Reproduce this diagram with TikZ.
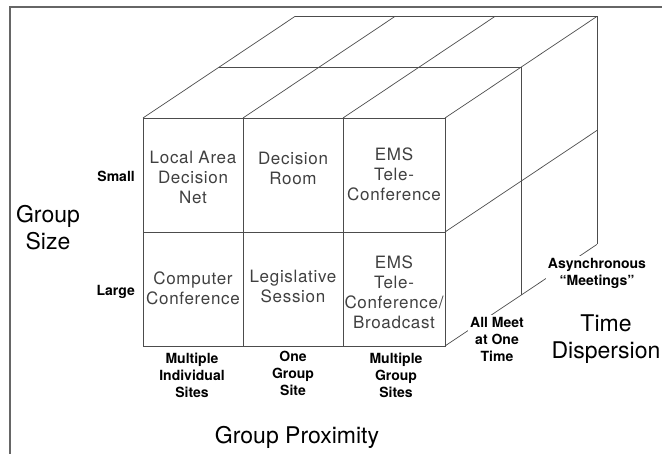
\documentclass[tikz,border=0pt]{standalone}
\usepackage{fontspec}
\setmainfont{TeX Gyre Heros}
\newfontfamily\cellfont[LetterSpace=4]{TeX Gyre Heros}
\begin{document}
\begin{tikzpicture}[x=1pt,y=-1pt,
  edge/.style={draw=black!70,line width=0.7pt},
  frameline/.style={draw=black!60,line width=1.3pt},
  celltext/.style={align=center,text=black!75,font=\cellfont\fontsize{17}{20}\selectfont,inner sep=0pt},
  lbl/.style={align=center,font=\bfseries\fontsize{14}{17}\selectfont,inner sep=2pt},
  biglbl/.style={align=center,font=\fontsize{23}{27}\selectfont,inner sep=0pt}]
\useasboundingbox (0,0) rectangle (662,454);
% frame
\draw[frameline] (10,454) -- (10,7) -- (662,7);
% corner coordinates
\coordinate (f0t) at (143,118); \coordinate (f1t) at (243,118);
\coordinate (f2t) at (343,118); \coordinate (f3t) at (445,118);
\coordinate (f0m) at (143,232); \coordinate (f3m) at (445,232);
\coordinate (f0b) at (143,346); \coordinate (f1b) at (243,346);
\coordinate (f2b) at (343,346); \coordinate (f3b) at (445,346);
\coordinate (m0t) at (219,67.2); \coordinate (m3t) at (521,67.2);
\coordinate (m3b) at (521,295.2);
\coordinate (b0t) at (295,16.4); \coordinate (b1t) at (395,16.4);
\coordinate (b2t) at (495,16.4); \coordinate (b3t) at (597,16.4);
\coordinate (b3m) at (597,130.4); \coordinate (b3b) at (597,244.4);
% front face
\draw[edge] (f0t) rectangle (f3b);
\draw[edge] (f0m) -- (f3m);
\draw[edge] (f1t) -- (f1b);
\draw[edge] (f2t) -- (f2b);
% top face
\draw[edge] (m0t) -- (m3t);
\draw[edge] (b0t) -- (b3t);
\draw[edge] (f0t) -- (b0t);
\draw[edge] (f1t) -- (b1t);
\draw[edge] (f2t) -- (b2t);
\draw[edge] (f3t) -- (b3t);
% right face
\draw[edge] (m3t) -- (m3b);
\draw[edge] (b3t) -- (b3b);
\draw[edge] (f3m) -- (b3m);
\draw[edge] (f3b) -- (b3b);
% cell texts
\node[celltext] (c11) at (193,177) {Local Area\\Decision\\Net};
\node[celltext] (c12) at (293,168) {Decision\\Room};
\node[celltext] (c13) at (394,174) {EMS\\Tele-\\Conference};
\node[celltext] (c21) at (193,288) {Computer\\Conference};
\node[celltext] (c22) at (293,286) {Legislative\\Session};
\node[celltext] (c23) at (394,292) {EMS\\Tele-\\Conference/\\Broadcast};
% row labels
\node[lbl,anchor=east] (small) at (137,176) {Small};
\node[lbl,anchor=east] (large) at (137,292) {Large};
\node[biglbl] (gsize) at (48,228) {Group\\Size};
% column labels
\node[lbl] (p1) at (192,375) {Multiple\\Individual\\Sites};
\node[lbl] (p2) at (293,373) {One\\Group\\Site};
\node[lbl] (p3) at (396,375) {Multiple\\Group\\Sites};
\node[biglbl] (gprox) at (297,437) {Group Proximity};
% time labels
\node[lbl,fill=white] (allmeet) at (497,339) {All Meet\\at One\\Time};
\node[lbl,fill=white] (async) at (597,273) {Asynchronous\\“Meetings”};
\node[biglbl] (tdisp) at (606,339) {Time\\Dispersion};
\end{tikzpicture}
\end{document}
